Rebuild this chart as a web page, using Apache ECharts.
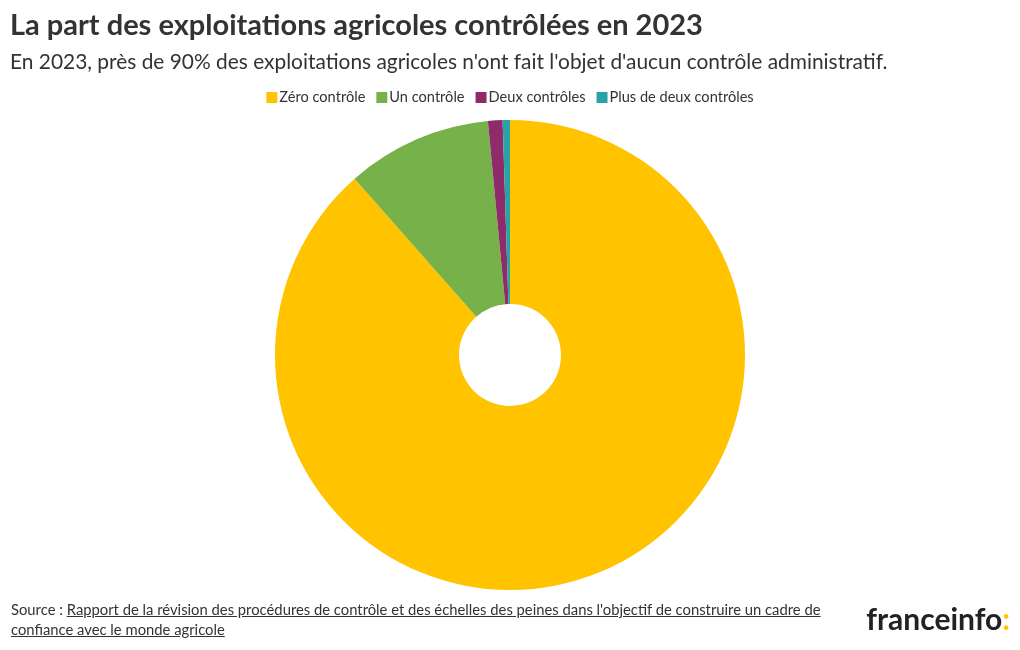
<!DOCTYPE html>
<html><head><meta charset="utf-8">
<script src="https://cdn.jsdelivr.net/npm/echarts@6/dist/echarts.min.js"></script>
<style>
html,body{margin:0;padding:0;background:#fff;}
#c{width:1020px;height:650px;position:absolute;left:0;top:0;}
#src{position:absolute;left:11px;top:600px;width:830px;font-family:Lato,sans-serif;font-size:14.8px;line-height:19.5px;color:#333;}
#src a{color:#333;text-decoration:underline;}
</style></head><body>
<div id="c"></div>
<div id="src">Source : <a>Rapport de la révision des procédures de contrôle et des échelles des peines dans l'objectif de construire un cadre de confiance avec le monde agricole</a></div>
<script>
const categories = ["Zéro contrôle", "Un contrôle", "Deux contrôles", "Plus de deux contrôles"];
const values = [88.5, 10, 1, 0.5];
const colors = ["#FFC300", "#76B14A", "#8E2B68", "#2AA3A6"];

const chart = echarts.init(document.getElementById('c'), null, {renderer:'canvas'});
chart.setOption({
  animation:false,
  color: colors,
  title:[
    {text:"La part des exploitations agricoles contrôlées en 2023", left:5, top:6,
     textStyle:{fontFamily:'Lato', fontWeight:'bold', fontSize:29, color:'#333'}},
    {text:"En 2023, près de 90% des exploitations agricoles n'ont fait l'objet d'aucun contrôle administratif.", left:5, top:47,
     textStyle:{fontFamily:'Lato', fontWeight:'normal', fontSize:20.9, color:'#333'}}
  ],
  legend:{
    top:85, left:'center', icon:'rect', itemWidth:11, itemHeight:11, itemGap:11,
    textStyle:{fontFamily:'Lato', fontSize:14.6, color:'#333', padding:[0,0,0,-3]},
    data: categories
  },
  graphic:[
    {type:'text', right:10, top:605, style:{
      text:'{a|franceinfo}{b|:}', rich:{
        a:{fontFamily:'Lato', fontWeight:'bold', fontSize:30, fill:'#222'},
        b:{fontFamily:'Lato', fontWeight:'bold', fontSize:30, fill:'#FFC300'}
      }}}
  ],
  series:[{
    type:'pie', center:[510,355], radius:[51,235], startAngle:90, clockwise:true,
    label:{show:false}, labelLine:{show:false},
    itemStyle:{borderWidth:0},
    emphasis:{disabled:true},
    data: categories.map((n,i)=>({name:n, value:values[i]}))
  }]
});
</script>
</body></html>
